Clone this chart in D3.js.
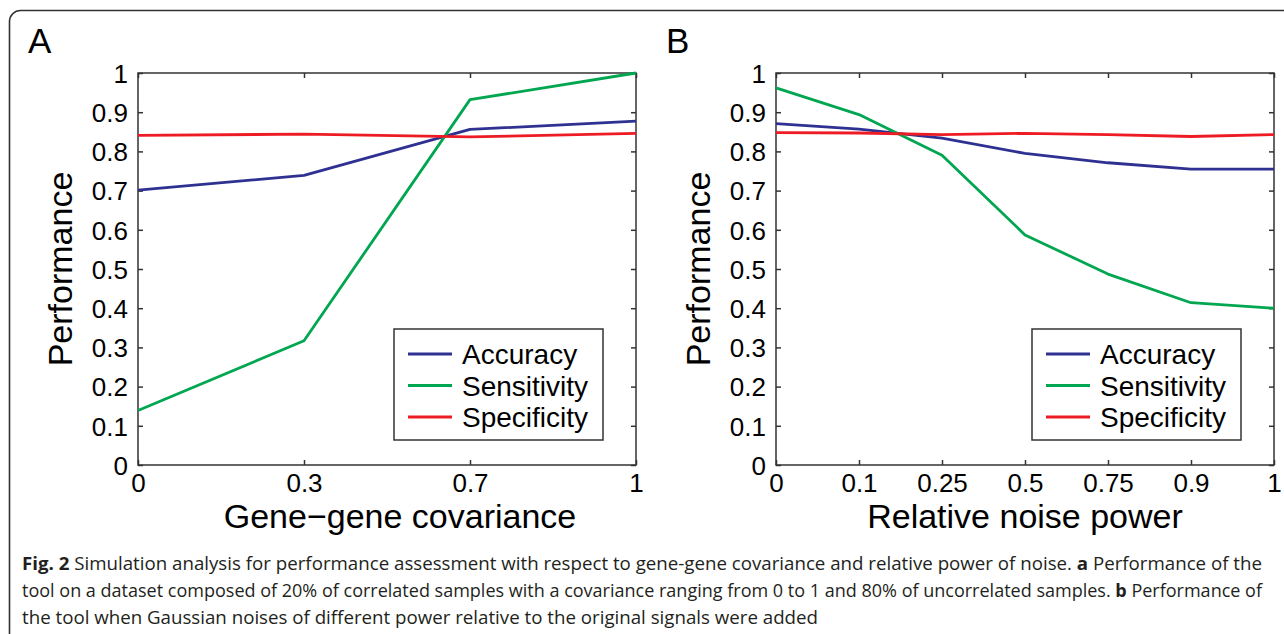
<!DOCTYPE html>
<html>
<head>
<meta charset="utf-8">
<script src="https://cdn.jsdelivr.net/npm/d3@7"></script>
<style>
  body { margin: 0; background: #fff; }
  svg { display: block; }
</style>
</head>
<body>
<div id="fig"></div>
<script>
// values
var xLabelsA = ["0", "0.3", "0.7", "1"];
var accuracyA = [0.701, 0.739, 0.856, 0.877];
var sensitivityA = [0.139, 0.317, 0.932, 1.0];
var specificityA = [0.841, 0.844, 0.837, 0.846];

var xLabelsB = ["0", "0.1", "0.25", "0.5", "0.75", "0.9", "1"];
var accuracyB = [0.871, 0.857, 0.834, 0.795, 0.771, 0.755, 0.755];
var sensitivityB = [0.962, 0.894, 0.790, 0.587, 0.487, 0.414, 0.400];
var specificityB = [0.848, 0.847, 0.843, 0.846, 0.843, 0.838, 0.843];

var seriesNames = ["Accuracy", "Sensitivity", "Specificity"];
var seriesColors = ["#2e3192", "#00a650", "#ed1c24"];

var captionLines = [
    [["Fig. 2", true], [" Simulation analysis for performance assessment with respect to gene-gene covariance and relative power of noise. ", false], ["a", true], [" Performance of the", false]],
    [["tool on a dataset composed of 20% of correlated samples with a covariance ranging from 0 to 1 and 80% of uncorrelated samples. ", false], ["b", true], [" Performance of", false]],
    [["the tool when Gaussian noises of different power relative to the original signals were added", false]]
];

var W = 1284, H = 634;
var font = "'Liberation Sans', Arial, Helvetica, sans-serif";

var svg = d3.select("#fig").append("svg")
    .attr("width", W)
    .attr("height", H);

// outer frame (only the top-left rounded corner shows)
svg.append("rect")
    .attr("x", 9.5).attr("y", 10.5)
    .attr("width", 1400).attr("height", 800)
    .attr("rx", 11)
    .style("fill", "none")
    .style("stroke", "#333")
    .style("stroke-width", "1.6px");

function drawPanel(opts) {
    var pw = 498, ph = 392;
    var g = svg.append("g")
        .attr("transform", "translate(" + opts.left + "," + 73 + ")");

    var x = d3.scalePoint().domain(opts.labels).range([0, pw]);
    var y = d3.scaleLinear().domain([0, 1]).range([ph, 0]);
    var fmt = d3.format("~g");

    // panel letter
    svg.append("text")
        .attr("x", opts.left - 110)
        .attr("y", 53)
        .style("font-family", font)
        .style("font-size", "35px")
        .text(opts.letter);

    // axes with inward ticks
    var yl = g.append("g").call(d3.axisLeft(y).ticks(10).tickFormat(fmt).tickSizeInner(-5).tickSizeOuter(0).tickPadding(10));
    var yr = g.append("g").attr("transform", "translate(" + pw + ",0)")
        .call(d3.axisRight(y).ticks(10).tickFormat("").tickSizeInner(-5).tickSizeOuter(0));
    var xb = g.append("g").attr("transform", "translate(0," + ph + ")")
        .call(d3.axisBottom(x).tickSizeInner(-5).tickSizeOuter(0).tickPadding(10));
    var xt = g.append("g")
        .call(d3.axisTop(x).tickFormat("").tickSizeInner(-5).tickSizeOuter(0));

    [yl, yr, xb, xt].forEach(function (a) {
        a.select(".domain").remove();
        a.selectAll("line").attr("stroke", "#333").attr("stroke-width", 1.5);
        a.selectAll("text")
            .style("font-family", font)
            .style("font-size", "26px")
            .attr("fill", "#000");
    });
    xb.selectAll("text").attr("dy", "0.71em").attr("y", 9);
    yl.selectAll("text").attr("dy", "0.36em");

    // axis box
    g.append("rect")
        .attr("width", pw).attr("height", ph)
        .style("fill", "none")
        .style("stroke", "#333")
        .style("stroke-width", "1.5px");

    // lines
    var line = d3.line()
        .x(function (d, i) { return x(opts.labels[i]); })
        .y(function (d) { return y(d); });

    opts.series.forEach(function (s, k) {
        g.append("path")
            .datum(s)
            .attr("d", line)
            .style("fill", "none")
            .style("stroke", seriesColors[k])
            .style("stroke-width", "2.8px")
            .style("stroke-linejoin", "round");
    });

    // axis titles
    g.append("text")
        .attr("x", pw / 2 + opts.xTitleShift)
        .attr("y", ph + 63)
        .attr("text-anchor", "middle")
        .style("font-family", font)
        .style("font-size", "34px")
        .text(opts.xTitle);

    g.append("text")
        .attr("transform", "translate(-66," + (ph / 2) + ") rotate(-90)")
        .attr("text-anchor", "middle")
        .style("font-family", font)
        .style("font-size", "34px")
        .text("Performance");

    // legend
    var lg = g.append("g").attr("transform", "translate(256,256)");
    lg.append("rect")
        .attr("width", 209).attr("height", 111)
        .style("fill", "#fff")
        .style("stroke", "#333")
        .style("stroke-width", "1.5px");
    seriesNames.forEach(function (name, k) {
        var yy = 25 + k * 31.5;
        lg.append("line")
            .attr("x1", 14).attr("x2", 58)
            .attr("y1", yy).attr("y2", yy)
            .style("stroke", seriesColors[k])
            .style("stroke-width", "2.8px");
        lg.append("text")
            .attr("x", 68).attr("y", yy)
            .attr("dy", "0.36em")
            .style("font-family", font)
            .style("font-size", "28px")
            .text(name);
    });
}

drawPanel({
    left: 138, letter: "A", labels: xLabelsA,
    series: [accuracyA, sensitivityA, specificityA],
    xTitle: "Gene\u2212gene covariance", xTitleShift: 13
});

drawPanel({
    left: 776, letter: "B", labels: xLabelsB,
    series: [accuracyB, sensitivityB, specificityB],
    xTitle: "Relative noise power", xTitleShift: 0
});

// caption
var capWidths = [1240, 1240, 796];
captionLines.forEach(function (parts, i) {
    var t = svg.append("text")
        .attr("x", 22)
        .attr("y", 570 + i * 27)
        .attr("textLength", capWidths[i])
        .attr("lengthAdjust", "spacingAndGlyphs")
        .style("font-family", "'Open Sans', 'Noto Sans', sans-serif")
        .style("font-size", "18px")
        .style("fill", "#231f20");
    parts.forEach(function (p) {
        t.append("tspan")
            .style("font-weight", p[1] ? "bold" : "normal")
            .text(p[0]);
    });
});
</script>
</body>
</html>
